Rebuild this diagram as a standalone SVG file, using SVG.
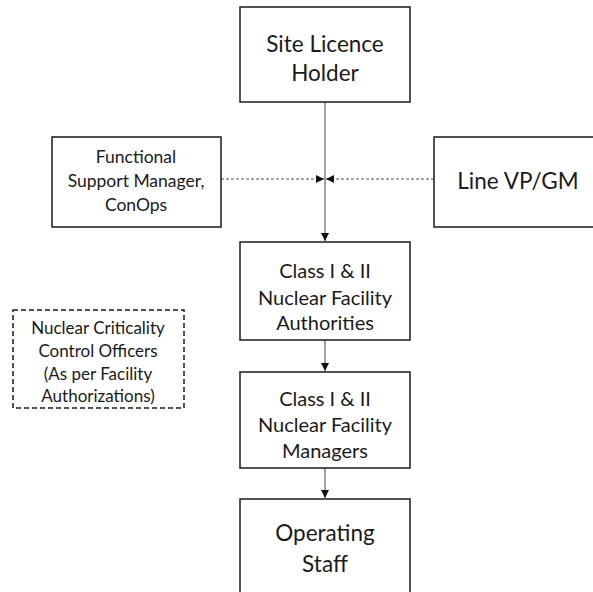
<svg xmlns="http://www.w3.org/2000/svg" width="593" height="592" viewBox="0 0 593 592">
<style>
.box{fill:#fff;stroke:#1a1a1a;stroke-width:1.5}
.dbox{fill:#fff;stroke:#1a1a1a;stroke-width:1.5;stroke-dasharray:5,3}
text{font-family:Lato,"Liberation Sans",sans-serif;fill:#1a1a1a;text-anchor:middle;dominant-baseline:central}
.conn{stroke:#444;stroke-width:1;fill:none}
.dash{stroke:#555;stroke-width:1;stroke-dasharray:3,2;fill:none}
</style>
<defs>
<marker id="ah" viewBox="0 0 10 10" refX="10" refY="5" markerWidth="8" markerHeight="8" markerUnits="userSpaceOnUse" orient="auto">
<path d="M0,0 L10,5 L0,10 z" fill="#111"/>
</marker>
</defs>
<rect width="593" height="592" fill="#fff"/>
<g id="connectors">
<line class="conn" x1="325" y1="102" x2="325" y2="241" marker-end="url(#ah)"/>
<line class="conn" x1="325" y1="340" x2="325" y2="371" marker-end="url(#ah)"/>
<line class="conn" x1="325" y1="468" x2="325" y2="498" marker-end="url(#ah)"/>
<line class="dash" x1="221" y1="179" x2="324" y2="179" marker-end="url(#ah)"/>
<line class="dash" x1="434" y1="179" x2="326" y2="179" marker-end="url(#ah)"/>
</g>
<g id="site-licence-holder">
<rect class="box" x="240" y="7" width="170" height="95"/>
<text x="325" y="43" font-size="22.5">Site Licence</text>
<text x="325" y="72" font-size="22.5">Holder</text>
</g>
<g id="functional-support">
<rect class="box" x="52" y="137" width="169" height="90"/>
<text x="136" y="156" font-size="17.5">Functional</text>
<text x="136" y="180" font-size="17.5">Support Manager,</text>
<text x="136" y="204" font-size="17.5">ConOps</text>
</g>
<g id="line-vp">
<rect class="box" x="434" y="137" width="170" height="90"/>
<text x="518" y="180" font-size="22.5">Line VP/GM</text>
</g>
<g id="facility-authorities">
<rect class="box" x="240" y="242" width="170" height="98"/>
<text x="325" y="270" font-size="20">Class I &amp; II</text>
<text x="325" y="297" font-size="20">Nuclear Facility</text>
<text x="325" y="322" font-size="20">Authorities</text>
</g>
<g id="ncco">
<rect class="dbox" x="13" y="310" width="171" height="98"/>
<text x="98" y="327" font-size="17">Nuclear Criticality</text>
<text x="98" y="350" font-size="17">Control Officers</text>
<text x="98" y="373" font-size="17">(As per Facility</text>
<text x="98" y="395" font-size="17">Authorizations)</text>
</g>
<g id="facility-managers">
<rect class="box" x="240" y="372" width="170" height="96"/>
<text x="325" y="398" font-size="20">Class I &amp; II</text>
<text x="325" y="424" font-size="20">Nuclear Facility</text>
<text x="325" y="450" font-size="20">Managers</text>
</g>
<g id="operating-staff">
<rect class="box" x="240" y="499" width="170" height="110"/>
<text x="325" y="532" font-size="22.5">Operating</text>
<text x="325" y="563" font-size="22.5">Staff</text>
</g>
</svg>
